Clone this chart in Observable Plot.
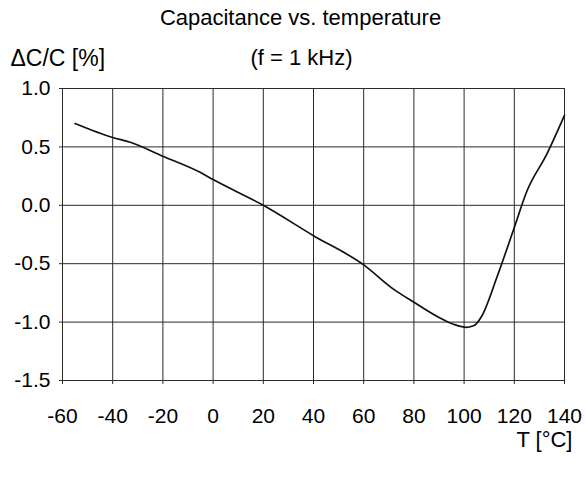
<!DOCTYPE html>
<html>
<head>
<meta charset="utf-8">
<script src="https://cdn.jsdelivr.net/npm/d3@7"></script>
<script src="https://cdn.jsdelivr.net/npm/@observablehq/plot@0.6"></script>
<style>
  html, body { margin: 0; padding: 0; background: #fff; }
</style>
</head>
<body>
<div id="chart"></div>
<script>
const temps = [-55, -40, -33, -20, -5, 0, 20, 40, 60, 72, 80, 90, 96, 101, 104, 107, 113, 120, 125, 133, 140];
const dcc   = [0.70, 0.58, 0.54, 0.42, 0.28, 0.22, 0.0, -0.26, -0.51, -0.72, -0.83, -0.96, -1.02, -1.045, -1.03, -0.95, -0.62, -0.19, 0.12, 0.44, 0.77];
const xTicks = [-60, -40, -20, 0, 20, 40, 60, 80, 100, 120, 140];
const yTicks = [-1.5, -1.0, -0.5, 0.0, 0.5, 1.0];
const title = "Capacitance vs. temperature";
const subtitle = "(f = 1 kHz)";
const yLabel = "\u0394C/C [%]";
const xLabel = "T [\u00b0C]";

const data = temps.map((t, i) => ({t, c: dcc[i]}));
const font = "Liberation Sans, Arial, Helvetica, sans-serif";

const chart = Plot.plot({
  width: 586,
  height: 478,
  marginLeft: 62,
  marginRight: 22,
  marginTop: 88,
  marginBottom: 98,
  style: {fontFamily: font, fontSize: "21px", color: "#000", background: "#fff"},
  x: {domain: [-60, 140]},
  y: {domain: [-1.5, 1.0]},
  marks: [
    Plot.gridX(xTicks, {stroke: "#2a2a2a", strokeOpacity: 1, strokeWidth: 1}),
    Plot.gridY(yTicks, {stroke: "#2a2a2a", strokeOpacity: 1, strokeWidth: 1}),
    Plot.axisX(xTicks, {tickSize: 4, tickPadding: 24, label: null, tickFormat: d => String(d), stroke: "#2a2a2a", fontSize: 21}),
    Plot.axisY(yTicks, {tickSize: 3, tickPadding: 9, label: null, tickFormat: d => d.toFixed(1), stroke: "#2a2a2a", fontSize: 21}),
    Plot.line(data, {x: "t", y: "c", stroke: "#111", strokeWidth: 1.7, curve: "monotone-x"}),
    Plot.text([title], {frameAnchor: "top", lineAnchor: "middle", dx: -13, dy: -71, text: d => d, fontSize: 22}),
    Plot.text([subtitle], {frameAnchor: "top", lineAnchor: "middle", dx: -12, dy: -31, text: d => d, fontSize: 22}),
    Plot.text([yLabel], {frameAnchor: "top-left", lineAnchor: "middle", textAnchor: "start", dx: -52, dy: -30, text: d => d, fontSize: 23}),
    Plot.text([xLabel], {frameAnchor: "bottom-right", lineAnchor: "middle", textAnchor: "end", dx: 8, dy: 59, text: d => d, fontSize: 22})
  ]
});
document.getElementById("chart").appendChild(chart);
</script>
</body>
</html>
